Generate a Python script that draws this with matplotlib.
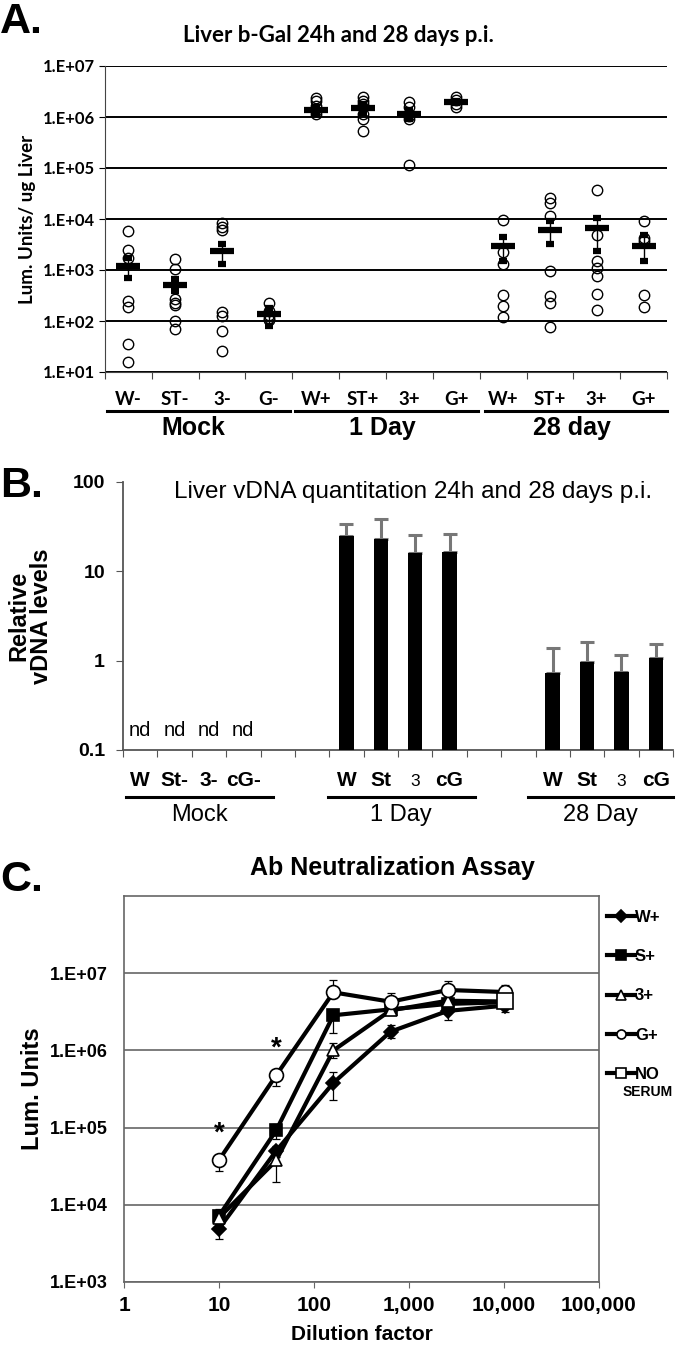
import matplotlib
matplotlib.use("Agg")
import matplotlib.pyplot as plt
import matplotlib.transforms as mtrans
from matplotlib.ticker import FixedLocator, FuncFormatter, NullLocator
import numpy as np

# ─── Data ──────────────────────────────────────────────────────────────────────
# Panel A: liver b-Gal, individual animals + mean/SE
a_labels = ["W-", "ST-", "3-", "G-", "W+", "ST+", "3+", "G+", "W+", "ST+", "3+", "G+"]
a_groups = ["Mock", "1 Day", "28 day"]
a_points = [
    [5850, 2500, 1720, 248, 190, 36, 16],
    [1670, 1050, 276, 230, 205, 100, 70],
    [8240, 7100, 6100, 147, 127, 63, 26],
    [223, 160, 130, 115, 105],
    [2.37e6, 2.1e6, 1.66e6, 1.32e6, 1.14e6],
    [2.5e6, 2.1e6, 1.8e6, 1.15e6, 9.1e5, 5.35e5],
    [1.94e6, 1.6e6, 1.05e6, 9.1e5, 1.17e5],
    [2.44e6, 2.15e6, 1.8e6, 1.55e6],
    [9700, 2250, 1320, 330, 196, 122],
    [25700, 20600, 11600, 950, 310, 229, 76],
    [37400, 4940, 1490, 1100, 760, 346, 164],
    [9000, 4250, 3770, 318, 190],
]
a_mean = [1185, 508, 2320, 135, 1.39e6, 1.48e6, 1.14e6, 1.94e6, 2930, 6180, 6670, 2930]
a_lo = [700, 390, 1320, 81, 1.2e6, 1.2e6, 0.9e6, 1.85e6, 1490, 3240, 2400, 1490]
a_hi = [1730, 675, 3230, 178, 1.6e6, 1.8e6, 1.4e6, 2.05e6, 4460, 9000, 10450, 4930]

# Panel B: relative vDNA (nd = not detected)
b_labels = ["W", "St-", "3-", "cG-", "", "", "W", "St", "3", "cG", "", "", "W", "St", "3", "cG"]
b_groups = ["Mock", "1 Day", "28 Day"]
b_values = [np.nan, np.nan, np.nan, np.nan, np.nan, np.nan,
            24.7, 23.0, 16.0, 16.6, np.nan, np.nan,
            0.72, 0.96, 0.75, 1.07]
b_err = [0, 0, 0, 0, 0, 0, 9.3, 15.7, 9.6, 9.7, 0, 0, 0.68, 0.66, 0.42, 0.45]
b_nd = [0, 1, 2, 3]

# Panel C: Ab neutralization
c_dilution = [10, 40, 160, 640, 2560, 10240]
c_w = [4900, 50000, 3.8e5, 1.75e6, 3.25e6, 3.8e6]
c_w_lo = [1300, 8000, 1.5e5, 0.3e6, 0.75e6, 0.7e6]
c_w_hi = [1000, 8000, 1.5e5, 0.4e6, 0.5e6, 0.4e6]
c_s = [7200, 92000, 2.85e6, 3.4e6, 4.0e6, 4.2e6]
c_s_lo = [1500, 20000, 1.17e6, 0.4e6, 0.4e6, 0.4e6]
c_s_hi = [1500, 18000, 0.5e6, 0.4e6, 0.4e6, 0.4e6]
c_3 = [6800, 37500, 1.0e6, 3.3e6, 4.4e6, 4.3e6]
c_3_lo = [1200, 17900, 0.2e6, 0.4e6, 0.5e6, 0.5e6]
c_3_hi = [1200, 10500, 0.25e6, 0.4e6, 0.5e6, 0.5e6]
c_g = [38000, 476000, 5.65e6, 4.27e6, 6.06e6, 5.7e6]
c_g_lo = [10400, 130000, 0.9e6, 0.6e6, 0.8e6, 0.8e6]
c_g_hi = [6800, 84000, 2.45e6, 1.35e6, 1.8e6, 1.3e6]
c_noserum_x = [10240]
c_noserum = [4.3e6]
c_noserum_err = [0.8e6]
c_star_x = [10, 40]
c_star_y = [38000, 476000]

# ─── Layout helpers (pixel -> figure fraction) ──────────────────────────────────
W, H = 680, 1347
plt.rcParams['font.family'] = ['Liberation Sans', 'DejaVu Sans']
fig = plt.figure(figsize=(W / 100, H / 100), dpi=100)


def rect(x0, y0, x1, y1):
    return [x0 / W, 1 - y1 / H, (x1 - x0) / W, (y1 - y0) / H]


def fy(y):
    return 1 - y / H


CAL = ['Lato', 'DejaVu Sans']

# ─── Panel A ───────────────────────────────────────────────────────────────────
axA = fig.add_axes(rect(105, 66, 667, 372))
xa = np.arange(len(a_labels))
for i, pts in enumerate(a_points):
    axA.plot([i] * len(pts), pts, 'o', ms=7.5, mfc='none', mec='black', mew=1.0, zorder=3)
axA.errorbar(xa, a_mean, yerr=[np.array(a_mean) - np.array(a_lo), np.array(a_hi) - np.array(a_mean)],
             fmt='_', color='black', ms=17, mew=4.5, elinewidth=1, capsize=3, capthick=1, zorder=4)
axA.set_yscale('log')
axA.set_ylim(10, 1e7)
axA.set_xlim(-0.5, len(a_labels) - 0.5)
axA.yaxis.set_major_locator(FixedLocator([10.0 ** k for k in range(1, 8)]))
axA.yaxis.set_minor_locator(NullLocator())
axA.yaxis.set_major_formatter(FuncFormatter(lambda v, p: "1.E+%02d" % round(np.log10(v))))
axA.grid(axis='y', color='black', lw=1.4)
axA.set_axisbelow(True)
for s in ['top', 'right']:
    axA.spines[s].set_visible(False)
axA.spines['left'].set_color('#444444')
axA.spines['bottom'].set_color('#444444')
axA.set_xticks(np.arange(-0.5, len(a_labels)))
axA.set_xticklabels([])
axA.tick_params(axis='x', length=5, color='#444444')
axA.tick_params(axis='y', length=4, labelsize=12, pad=3)
for t in axA.get_yticklabels():
    t.set_fontweight('bold')
    t.set_family(CAL)
axA.set_ylabel("Lum. Units/ ug Liver", fontsize=13.5, fontweight='bold', labelpad=5, family=CAL)
fig.text(0.0, fy(22), "A.", fontsize=31, fontweight='bold', va='center', ha='left')
fig.text(338 / W, fy(36), "Liver b-Gal 24h and 28 days p.i.", fontsize=16,
         fontweight='bold', ha='center', va='center', family=CAL)
trA = mtrans.blended_transform_factory(axA.transData, fig.transFigure)
for i, lab in enumerate(a_labels):
    axA.text(i, fy(399), lab, transform=trA, ha='center', va='center',
             fontsize=13.5, fontweight='bold', family=CAL)
for g, (x0, x1) in enumerate([(-0.46, 3.45), (3.56, 7.47), (7.62, 11.5)]):
    axA.plot([x0, x1], [fy(411)] * 2, transform=trA, color='black', lw=2.2, clip_on=False)
    axA.text((x0 + x1) / 2 - 0.1, fy(428), a_groups[g], transform=trA, ha='center', va='center',
             fontsize=18, fontweight='bold')

# ─── Panel B ───────────────────────────────────────────────────────────────────
axB = fig.add_axes(rect(123, 482, 673, 750))
xb = np.arange(len(b_labels))
bv = np.array(b_values)
axB.bar(xb, bv, width=0.42, color='black', zorder=3)
be = np.array(b_err)
mask = ~np.isnan(bv)
axB.errorbar(xb[mask], bv[mask], yerr=[np.zeros(mask.sum()), be[mask]], fmt='none',
             ecolor='#777777', elinewidth=2.2, capsize=5, capthick=2.2, zorder=2)
axB.set_yscale('log')
axB.set_ylim(0.1, 100)
axB.set_xlim(-0.5, len(b_labels) - 0.5)
axB.yaxis.set_major_locator(FixedLocator([0.1, 1, 10, 100]))
axB.yaxis.set_minor_locator(NullLocator())
axB.yaxis.set_major_formatter(FuncFormatter(lambda v, p: "%g" % v))
for s in ['top', 'right']:
    axB.spines[s].set_visible(False)
for s in ['left', 'bottom']:
    axB.spines[s].set_color('#555555')
    axB.spines[s].set_linewidth(1.3)
axB.set_xticks(np.arange(-0.5, len(b_labels)))
axB.set_xticklabels([])
axB.tick_params(axis='x', length=5, color='#555555')
axB.tick_params(axis='y', length=5, color='#555555', labelsize=14, pad=8)
for t in axB.get_yticklabels():
    t.set_fontweight('bold')
axB.set_ylabel("Relative\nvDNA levels", fontsize=17, fontweight='bold', labelpad=14,
               linespacing=1.0)
fig.text(0.0, fy(486), "B.", fontsize=31, fontweight='bold', va='center', ha='left')
fig.text(413 / W, fy(492), "Liver vDNA quantitation 24h and 28 days p.i.", fontsize=17.5,
         ha='center', va='center')
trB = mtrans.blended_transform_factory(axB.transData, fig.transFigure)
for i in b_nd:
    axB.text(i, fy(730), "nd", transform=trB, ha='center', va='center', fontsize=14.5)
for i, lab in enumerate(b_labels):
    if lab == "3":
        axB.text(i, fy(782), lab, transform=trB, ha='center', va='center', fontsize=12.5)
    elif lab:
        axB.text(i, fy(780), lab, transform=trB, ha='center', va='center',
                 fontsize=15, fontweight='bold')
for g, (x0, x1) in enumerate([(-0.41, 3.86), (5.46, 9.73), (11.27, 15.5)]):
    axB.plot([x0, x1], [fy(797)] * 2, transform=trB, color='black', lw=2.2, clip_on=False)
    axB.text((x0 + x1) / 2, fy(815), b_groups[g], transform=trB, ha='center', va='center',
             fontsize=17)

# ─── Panel C ───────────────────────────────────────────────────────────────────
axC = fig.add_axes(rect(124, 896, 599, 1282))
series = [
    ("W+", c_w, c_w_lo, c_w_hi, 'D', 'black', 7),
    ("S+", c_s, c_s_lo, c_s_hi, 's', 'black', 8),
    ("3+", c_3, c_3_lo, c_3_hi, '^', 'white', 9),
    ("G+", c_g, c_g_lo, c_g_hi, 'o', 'white', 10),
]
for name, ys, lo, hi, mk, fc, ms in series:
    axC.errorbar(c_dilution, ys, yerr=[lo, hi], fmt='none', ecolor='black', elinewidth=0.9,
                 capsize=3, capthick=0.9, zorder=2)
    axC.plot(c_dilution, ys, '-', color='black', lw=3, marker=mk, ms=ms, mfc=fc,
             mec='black', mew=1.2, label=name, zorder=3)
axC.errorbar(c_noserum_x, c_noserum, yerr=c_noserum_err, fmt='none', ecolor='black',
             elinewidth=0.9, capsize=3, zorder=2)
axC.plot(c_noserum_x, c_noserum, '-', color='black', lw=3, marker='s', ms=11, mfc='white',
         mec='black', mew=1.2, label="NO", zorder=4)
for sx, sy in zip(c_star_x, c_star_y):
    axC.annotate("*", (sx, sy), xytext=(0, 10), textcoords='offset points', ha='center',
                 va='bottom', fontsize=20, fontweight='bold')
axC.set_xscale('log')
axC.set_yscale('log')
axC.set_xlim(1, 1e5)
axC.set_ylim(1e3, 1e8)
axC.xaxis.set_major_locator(FixedLocator([10.0 ** k for k in range(6)]))
axC.xaxis.set_minor_locator(NullLocator())
axC.xaxis.set_major_formatter(FuncFormatter(lambda v, p: "{:,}".format(int(round(v)))))
axC.yaxis.set_major_locator(FixedLocator([10.0 ** k for k in range(3, 8)]))
axC.yaxis.set_minor_locator(NullLocator())
axC.yaxis.set_major_formatter(FuncFormatter(lambda v, p: "1.E+%02d" % round(np.log10(v))))
axC.grid(axis='y', color='#666666', lw=1.2)
axC.set_axisbelow(True)
for s in axC.spines.values():
    s.set_color('#666666')
    s.set_linewidth(1.2)
axC.tick_params(axis='x', length=4, color='#666666', labelsize=15, pad=6)
axC.tick_params(axis='y', length=0, labelsize=13, pad=12)
for t in axC.get_xticklabels() + axC.get_yticklabels():
    t.set_fontweight('bold')
axC.set_xlabel("Dilution factor", fontsize=15, fontweight='bold', labelpad=7)
axC.set_ylabel("Lum. Units", fontsize=17, fontweight='bold', labelpad=4)
fig.text(0.0, fy(880), "C.", fontsize=31, fontweight='bold', va='center', ha='left')
fig.text(392 / W, fy(868), "Ab Neutralization Assay", fontsize=18, fontweight='bold',
         ha='center', va='center')
leg = axC.legend(loc='upper left', bbox_to_anchor=(0.995, 1 - 4 / 386), frameon=False,
                 handlelength=1.7, handletextpad=0.0, labelspacing=1.45, borderaxespad=0.2,
                 prop={'weight': 'bold', 'size': 12})
for h in leg.legend_handles:
    h.set_markersize(6.5)
    h.set_linewidth(3)
fig.text(623 / W, fy(1092), "SERUM", fontsize=10, fontweight='bold', ha='left', va='center')

fig.savefig("out.png", dpi=100)
